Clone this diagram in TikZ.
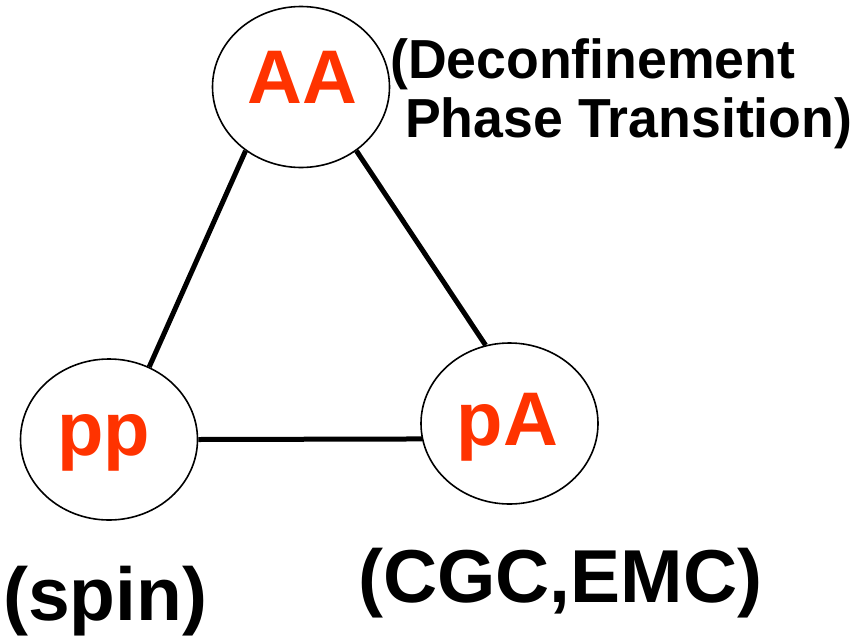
\documentclass[tikz,border=0pt]{standalone}
\usepackage{graphicx}
\usepackage{fontspec}
\setmainfont{Liberation Sans}
\usetikzlibrary{shapes.geometric}
\definecolor{lblred}{HTML}{FF3300}
\begin{document}
\begin{tikzpicture}[x=1pt,y=-1pt,
  oval/.style={ellipse, draw, line width=1.6pt, minimum width=177pt, minimum height=161pt, inner sep=0pt},
  redlbl/.style={text=lblred, font=\fontsize{76}{80}\selectfont\bfseries, inner sep=0pt, anchor=base},
  blk/.style={font=\fontsize{75}{78}\selectfont\bfseries, inner sep=0pt, anchor=base west},
  note/.style={font=\fontsize{55}{60}\selectfont\bfseries, inner sep=0pt, anchor=base west},
  link/.style={line width=5pt}]
\useasboundingbox (0,0) rectangle (857,635);
\node[oval] (AA) at (301,87) {};
\node[oval] (pp) at (109,439.5) {};
\node[oval] (pA) at (509.5,423.5) {};
\node[redlbl] (tAA) at (302.5,103) {AA};
\node[redlbl] (tpp) at (103.5,455) {pp};
\node[redlbl] (tpA) at (507.5,445) {pA};
\node[note] (n1) at (390,78) {\scalebox{0.975}[1]{(Deconfinement}};
\node[note] (n2) at (405,137) {\scalebox{0.975}[1]{Phase Transition)}};
\node[blk] (spin) at (3,620) {(spin)};
\node[blk] (cgc) at (358,602) {(CGC,EMC)};
\draw[link] (AA.229) -- (pp.61);
\draw[link] (AA.311) -- (pA.107);
\draw[link] (pp.0) -- (pA.190);
\end{tikzpicture}
\end{document}
